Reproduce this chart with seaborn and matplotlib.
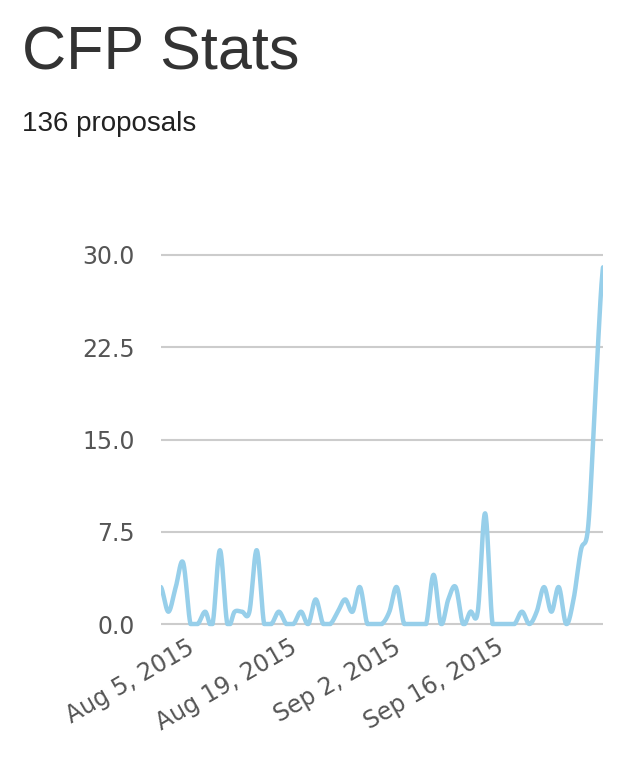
import numpy as np
import matplotlib as mpl
_ = mpl.use('Agg')
import matplotlib.pyplot as plt
import matplotlib.transforms as mtransforms
import seaborn as sns
import pandas as pd

# daily proposal counts, Aug 1 - Sep 30 2015
start_date = '2015-08-01'
aug_counts = [3, 1, 3, 5, 0, 0, 1, 0, 6, 0, 1, 1, 1, 6, 0, 0, 1, 0, 0, 1,
              0, 2, 0, 0, 1, 2, 1, 3, 0, 0, 0]
sep_counts = [1, 3, 0, 0, 0, 0, 4, 0, 2, 3, 0, 1, 1, 9, 0, 0, 0, 0, 1, 0,
              1, 3, 1, 3, 0, 2, 6, 8, 19, 29]
tick_dates = ['2015-08-05', '2015-08-19', '2015-09-02', '2015-09-16']
y_ticks = [0.0, 7.5, 15.0, 22.5, 30.0]
title = 'CFP Stats'
subtitle = '136 proposals'

counts = np.array(aug_counts + sep_counts, dtype=float)
dates = pd.date_range(start_date, periods=counts.size, freq='D')


def cardinal_curve(y, steps=20):
    # catmull-rom smoothing between the daily points, for drawing only
    p = np.concatenate([[y[0]], y, [y[-1]]])
    xs, ys = [], []
    t = np.linspace(0, 1, steps, endpoint=False)
    h00 = 2 * t**3 - 3 * t**2 + 1
    h10 = t**3 - 2 * t**2 + t
    h01 = -2 * t**3 + 3 * t**2
    h11 = t**3 - t**2
    for i in range(len(y) - 1):
        m1 = (p[i + 2] - p[i]) / 2.0
        m2 = (p[i + 3] - p[i + 1]) / 2.0
        ys.append(h00 * p[i + 1] + h10 * m1 + h01 * p[i + 2] + h11 * m2)
        xs.append(i + t)
    xs.append([len(y) - 1])
    ys.append([y[-1]])
    return np.concatenate(xs), np.maximum(np.concatenate(ys), 0)


tt, smooth = cardinal_curve(counts)
df = pd.DataFrame({'date': dates[0] + pd.to_timedelta(tt, unit='D'), 'proposals': smooth})

sns.set_style('white')
plt.rcParams['font.family'] = ['Liberation Sans', 'DejaVu Sans']

fig = plt.figure(figsize=(6.36, 7.62), dpi=100)
ax = fig.add_axes([161 / 636, 1 - 630.15 / 762, 442 / 636, 381.3 / 762])

ax.set_yticks(y_ticks)
ax.yaxis.grid(True, color='#cccccc', linewidth=1.5)
ax.xaxis.grid(False)
ax.set_axisbelow(True)

sns.lineplot(data=df, x='date', y='proposals', ax=ax, color='#97cfea', linewidth=3.2)

ax.set_xlim(dates[0], dates[-1])
ax.set_ylim(-0.5, 30.5)
for s in ax.spines.values():
    s.set_visible(False)
ax.set_xlabel('')
ax.set_ylabel('')

ax.set_yticklabels(['%.1f' % v for v in y_ticks], family='DejaVu Sans', fontsize=17, color='#555555')
ax.set_xticks(pd.to_datetime(tick_dates))
ax.set_xticklabels([pd.Timestamp(d).strftime('%b %-d, %Y') for d in tick_dates],
                   family='DejaVu Sans', fontsize=17, color='#555555', rotation=30, ha='right')
ax.tick_params(axis='y', length=0, pad=19)
ax.tick_params(axis='x', length=0, pad=2)
shift = mtransforms.ScaledTranslation(0.08, -0.02, fig.dpi_scale_trans)
for lbl in ax.get_xticklabels():
    lbl.set_transform(lbl.get_transform() + shift)

fig.text(22 / 636, 1 - 70 / 762, title, fontsize=44, color='#333333', va='baseline')
fig.text(22 / 636, 1 - 131 / 762, subtitle, fontsize=20, color='#222222', va='baseline')

plt.savefig('out.png', dpi=100)
